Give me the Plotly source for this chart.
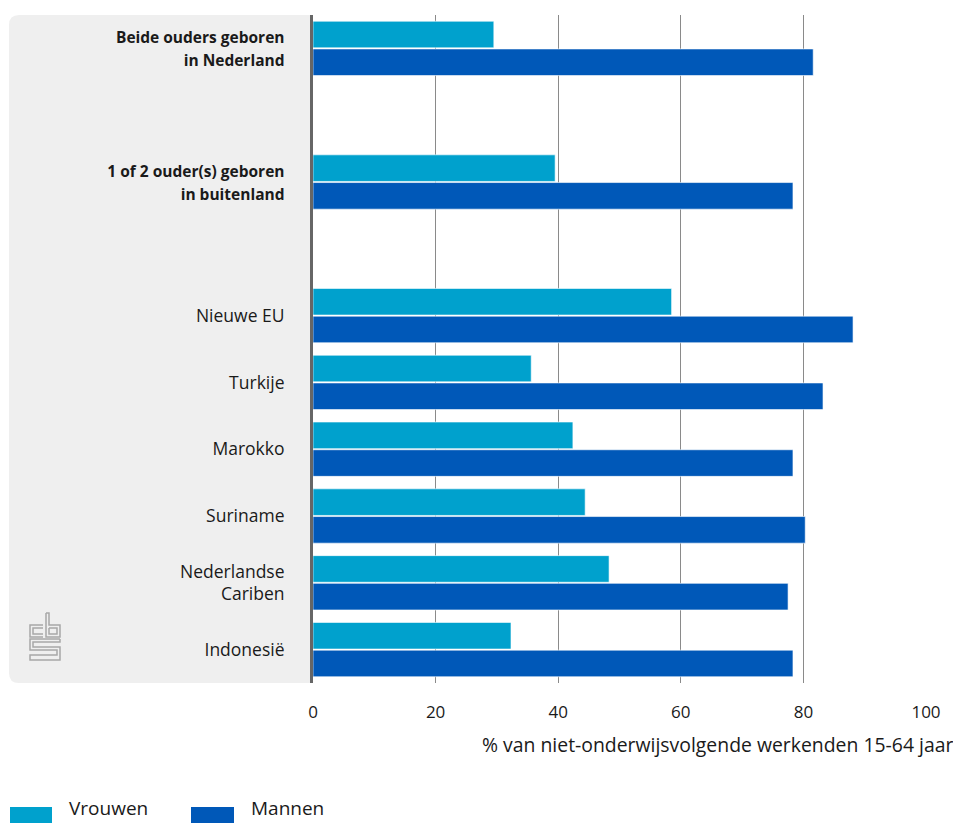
import plotly.graph_objects as go

categories = [
    "<b>Beide ouders geboren</b><br><b>in Nederland</b>",
    " ",
    "<b>1 of 2 ouder(s) geboren</b><br><b>in buitenland</b>",
    "  ",
    "Nieuwe EU",
    "Turkije",
    "Marokko",
    "Suriname",
    "Nederlandse<br>Cariben",
    "Indonesië",
]
tick_text = [
    "<span style='font-size:15.5px'><b>Beide ouders geboren</b></span><br><span style='font-size:15.5px'><b>in Nederland</b></span>",
    " ",
    "<span style='font-size:15.5px'><b>1 of 2 ouder(s) geboren</b></span><br><span style='font-size:15.5px'><b>in buitenland</b></span>",
    "  ",
    "Nieuwe EU",
    "Turkije",
    "Marokko",
    "Suriname",
    "Nederlandse<br>Cariben",
    "Indonesië",
]
vrouwen = [29.5, None, 39.5, None, 58.5, 35.6, 42.4, 44.4, 48.3, 32.3]
mannen = [81.6, None, 78.3, None, 88.1, 83.2, 78.3, 80.3, 77.5, 78.3]
x_ticks = [0, 20, 40, 60, 80, 100]

C_V = "#00a1cd"
C_M = "#0058b8"
FONT = "Open Sans"
TXT = "#1a1a1a"

OFF = 8  # page body margin
W, H = 961 - OFF, 823 - OFF
L, R, T, B = 313 - OFF, 926 - OFF, 15 - OFF, 683 - OFF


def px(x):
    return (x - OFF - L) / (R - L)


def py(y):
    return (B - (y - OFF)) / (B - T)


fig = go.Figure()
fig.add_trace(go.Bar(y=categories, x=vrouwen, name="Vrouwen", orientation="h",
                     marker=dict(color=C_V, line=dict(color="rgba(255,255,255,0.6)", width=1))))
fig.add_trace(go.Bar(y=categories, x=mannen, name="Mannen", orientation="h",
                     marker=dict(color=C_M, line=dict(color="rgba(255,255,255,0.6)", width=1))))

shapes = []
# grey panel with rounded left corners
r_x = 10 / (R - L)
r_y = 10 / (B - T)
x0 = px(9)
panel = (f"M 0,1 L {x0 + r_x},1 Q {x0},1 {x0},{1 - r_y} L {x0},{r_y} "
         f"Q {x0},0 {x0 + r_x},0 L 0,0 Z")
shapes.append(dict(type="path", xref="paper", yref="paper", path=panel,
                   fillcolor="#efefef", line=dict(width=0), layer="below"))


# CBS logo (approximation)
def poly(points):
    return "M " + " L ".join(f"{px(a)},{py(b)}" for a, b in points)


logo_col = "#a8a8a8"
logo_paths = [
    [(43, 625), (30, 625), (30, 637), (43, 637)],
    [(43, 628), (33, 628), (33, 634), (43, 634)],
    [(46, 613), (46, 637), (60, 637), (60, 625), (49, 625), (49, 613), (46, 613)],
    [(49, 628), (57, 628), (57, 634), (49, 634), (49, 628)],
    [(60, 639), (30, 639), (30, 650), (57, 650), (57, 655), (30, 655), (30, 660), (60, 660),
     (60, 647), (33, 647), (33, 642), (60, 642), (60, 639)],
]
for pts in logo_paths:
    shapes.append(dict(type="path", xref="paper", yref="paper", path=poly(pts),
                       line=dict(color=logo_col, width=1.5)))

# legend swatches
shapes.append(dict(type="rect", xref="paper", yref="paper", x0=px(10), x1=px(52),
                   y0=py(823), y1=py(807), fillcolor=C_V, line=dict(width=0)))
shapes.append(dict(type="rect", xref="paper", yref="paper", x0=px(191), x1=px(234),
                   y0=py(823), y1=py(807), fillcolor=C_M, line=dict(width=0)))

annotations = [
    dict(text="% van niet-onderwijsvolgende werkenden 15-64 jaar", xref="paper", yref="paper",
         x=px(955), y=py(745), xanchor="right", yanchor="middle", showarrow=False,
         font=dict(family=FONT, size=19.4, color=TXT)),
    dict(text="Vrouwen", xref="paper", yref="paper", x=px(67), y=py(808),
         xanchor="left", yanchor="middle", showarrow=False,
         font=dict(family=FONT, size=19, color=TXT)),
    dict(text="Mannen", xref="paper", yref="paper", x=px(249), y=py(808),
         xanchor="left", yanchor="middle", showarrow=False,
         font=dict(family=FONT, size=19, color=TXT)),
]

fig.update_layout(
    width=W, height=H,
    margin=dict(l=L, r=W - R, t=T, b=H - B, pad=0),
    paper_bgcolor="white", plot_bgcolor="white",
    barmode="group", bargap=0.17, bargroupgap=0.04,
    showlegend=False,
    shapes=shapes, annotations=annotations,
    font=dict(family=FONT, size=17, color=TXT),
)
fig.update_xaxes(range=[0, 100], tickvals=x_ticks, showgrid=True, gridcolor="#8a8a8a",
                 gridwidth=1, zeroline=False, showline=False, ticks="",
                 ticklabelstandoff=17, tickfont=dict(family=FONT, size=17, color=TXT))
fig.update_yaxes(autorange="reversed", showline=True, linecolor="#666666", linewidth=3,
                 ticks="", ticklabelstandoff=22, showgrid=False,
                 tickmode="array", tickvals=categories, ticktext=tick_text,
                 tickfont=dict(family=FONT, size=17.5, color=TXT))

fig.write_html("out.html")
